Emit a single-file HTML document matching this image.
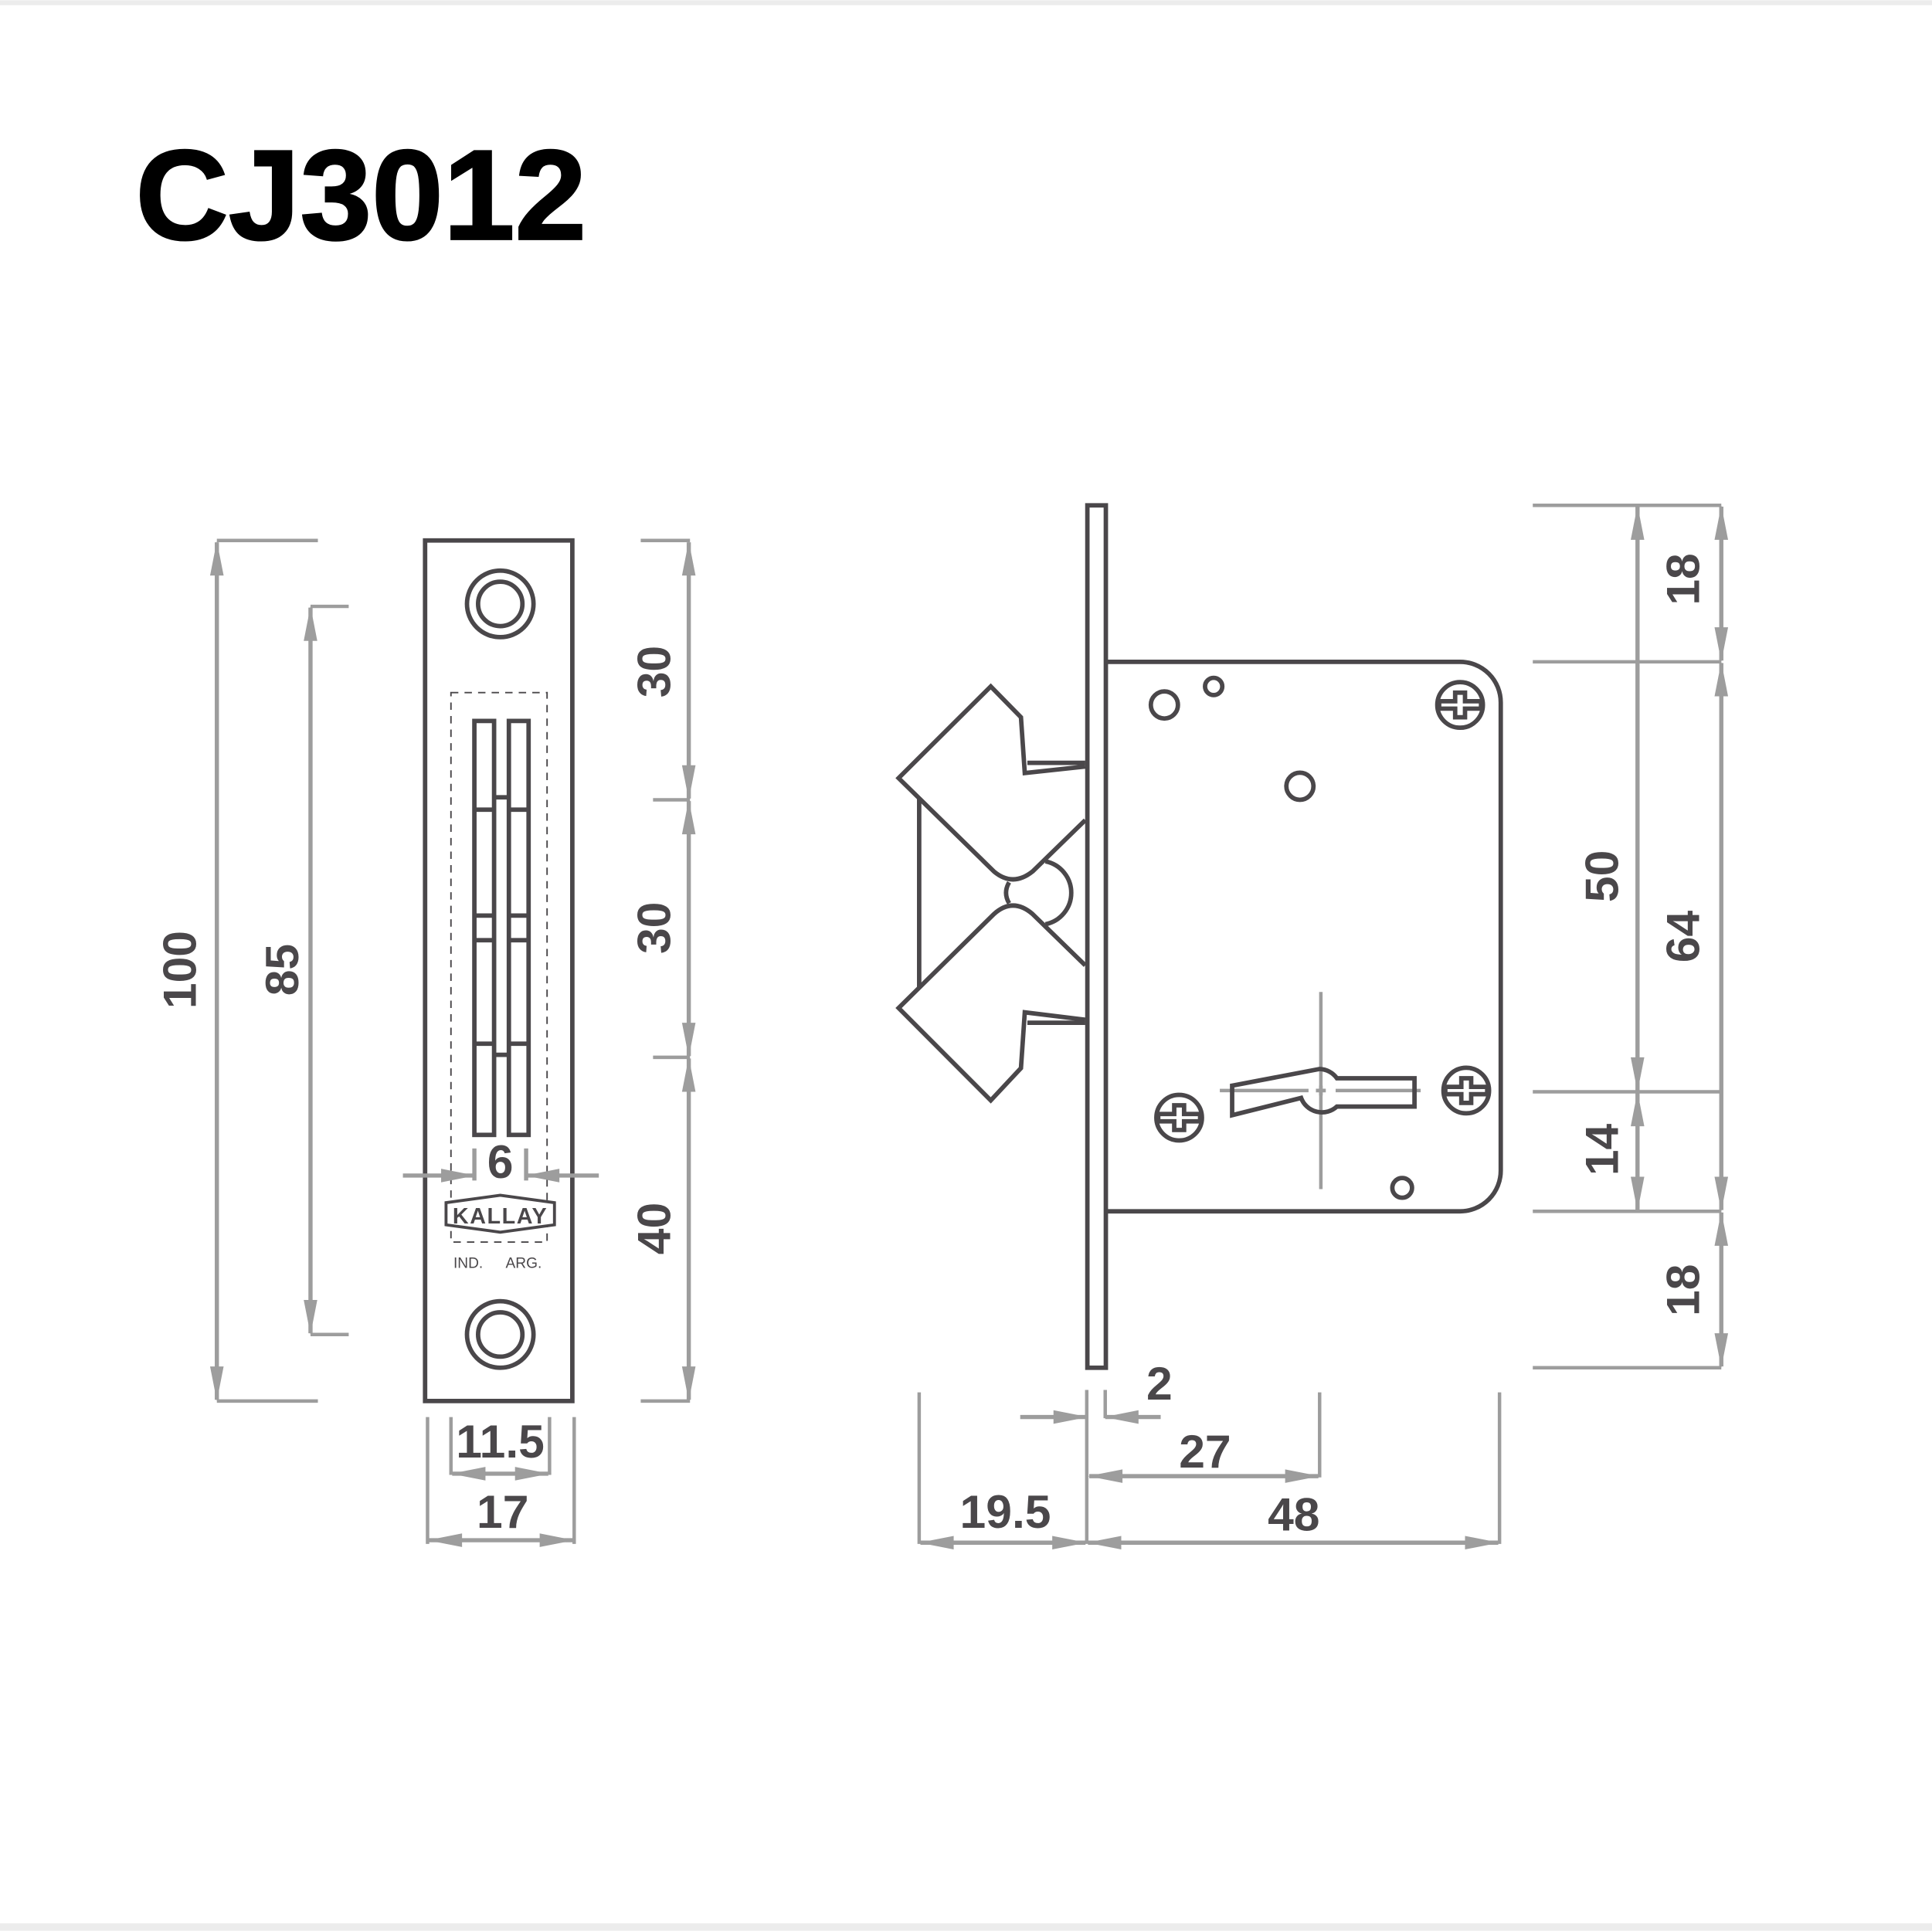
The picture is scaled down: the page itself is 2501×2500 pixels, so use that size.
<!DOCTYPE html>
<html><head><meta charset="utf-8"><style>
html,body{margin:0;padding:0;background:#fff;}
svg{display:block;}
.d{fill:none;stroke:#4a474a;stroke-width:3.6;stroke-linejoin:miter;}
.g{fill:none;stroke:#9d9d9d;stroke-width:3.4;}
.ge{fill:none;stroke:#9d9d9d;stroke-width:2.8;}
.t{font-family:"Liberation Sans",sans-serif;font-weight:bold;font-size:38px;fill:#4a474a;text-anchor:middle;}
</style></head><body>
<svg width="2501" height="2500" viewBox="0 0 1568 1567" xmlns="http://www.w3.org/2000/svg">
<defs>
<marker id="a" markerUnits="userSpaceOnUse" markerWidth="40" markerHeight="14" refX="0" refY="0" viewBox="-30 -7 32 14" orient="auto-start-reverse"><path d="M1,0 L-27,-5.5 L-27,5.5 z" fill="#9d9d9d"/></marker>
<g id="scr"><circle class="d" cx="0" cy="0" r="18.5"/><polygon class="d" points="-4,-10 4,-10 4,-3 17,-3 17,3 4,3 4,10 -4,10 -4,3 -17,3 -17,-3 -4,-3"/></g>
</defs>
<rect x="0" y="0" width="1568" height="4" fill="#ececec"/>
<rect x="0" y="1561" width="1568" height="6" fill="#ececec"/>
<text x="110" y="194" font-family="Liberation Sans,sans-serif" font-weight="bold" font-size="104" fill="#000" stroke="#000" stroke-width="1.5" textLength="366" lengthAdjust="spacingAndGlyphs">CJ3012</text>

<!-- LEFT faceplate -->
<rect class="d" x="345" y="438.5" width="119.5" height="698.5"/>
<circle class="d" cx="406" cy="490" r="27"/><circle class="d" cx="406" cy="490" r="18"/>
<circle class="d" cx="406" cy="1083" r="27"/><circle class="d" cx="406" cy="1083" r="18"/>
<rect x="366" y="562" width="78" height="446" fill="none" stroke="#4a474a" stroke-width="1.2" stroke-dasharray="6,5"/>
<rect class="d" x="385" y="585" width="16" height="336"/>
<rect class="d" x="413" y="585" width="16" height="336"/>
<path class="d" d="M385,657H401M385,743H401M385,763H401M385,847H401M413,657H429M413,743H429M413,763H429M413,847H429M401,647H413M401,856H413"/>
<text class="t" x="406" y="956">6</text>
<path class="g" d="M385,932V958M427,932V958"/>
<line class="g" x1="327" y1="954" x2="385" y2="954" marker-end="url(#a)"/>
<line class="g" x1="486" y1="954" x2="427" y2="954" marker-end="url(#a)"/>
<polygon points="362,976 406,970 450,976 450,994 406,1000 362,994" fill="#fff" stroke="#4a474a" stroke-width="2.4"/>
<text x="406" y="993" font-family="Liberation Sans,sans-serif" font-weight="bold" font-size="18" fill="#4a474a" text-anchor="middle" letter-spacing="1">KALLAY</text>
<text x="380" y="1029" font-family="Liberation Sans,sans-serif" font-size="12" fill="#4a474a" text-anchor="middle">IND.</text>
<text x="425" y="1029" font-family="Liberation Sans,sans-serif" font-size="12" fill="#4a474a" text-anchor="middle">ARG.</text>

<!-- left dims -->
<path class="ge" d="M176,438.5H258M176,1137H258M252,492H283M252,1083H283"/>
<line class="g" x1="176" y1="440" x2="176" y2="1136" marker-start="url(#a)" marker-end="url(#a)"/>
<line class="g" x1="252" y1="493" x2="252" y2="1082" marker-start="url(#a)" marker-end="url(#a)"/>
<text class="t" transform="translate(159,787) rotate(-90)">100</text>
<text class="t" transform="translate(242,787) rotate(-90)">85</text>
<path class="ge" d="M520,438.5H560M530,649H560M530,858H560M520,1137H560"/>
<line class="g" x1="559" y1="440" x2="559" y2="648" marker-start="url(#a)" marker-end="url(#a)"/>
<line class="g" x1="559" y1="650" x2="559" y2="857" marker-start="url(#a)" marker-end="url(#a)"/>
<line class="g" x1="559" y1="859" x2="559" y2="1136" marker-start="url(#a)" marker-end="url(#a)"/>
<text class="t" transform="translate(544,545) rotate(-90)">30</text>
<text class="t" transform="translate(544,753) rotate(-90)">30</text>
<text class="t" transform="translate(544,997) rotate(-90)">40</text>
<path class="ge" d="M347,1150V1253M466,1150V1253M366,1150V1197M446,1150V1197"/>
<line class="g" x1="367" y1="1196" x2="445" y2="1196" marker-start="url(#a)" marker-end="url(#a)"/>
<line class="g" x1="348" y1="1250" x2="465" y2="1250" marker-start="url(#a)" marker-end="url(#a)"/>
<text class="t" x="406" y="1183">11.5</text>
<text class="t" x="408" y="1240">17</text>

<!-- RIGHT lock body -->
<rect class="d" x="882.5" y="410" width="15" height="700"/>
<path class="d" d="M898,537H1185A33,33 0 0 1 1218,570V950A33,33 0 0 1 1185,983H898"/>
<circle class="d" cx="945" cy="572" r="11"/>
<circle class="d" cx="985" cy="557" r="7"/>
<circle class="d" cx="1055" cy="638" r="11"/>
<circle class="d" cx="1138" cy="964" r="8"/>
<use href="#scr" transform="translate(1185,572)"/>
<use href="#scr" transform="translate(957,907)"/>
<use href="#scr" transform="translate(1190,885)"/>
<path class="ge" d="M1072,805V965M990,885H1062M1084,885H1153" stroke-width="3"/>
<path class="d" d="M1000,881L1071,867.5A18,18 0 0 1 1085,875H1148V898H1085A18,18 0 0 1 1056,891L1000,905Z"/>
<path d="M1068,885H1076M1072,881V889" stroke="#9d9d9d" stroke-width="3"/>

<!-- latch bolts -->
<path class="d" d="M880.8,622L831.7,627.3L828.6,582L804.1,557L729.3,631.4L806.7,707.2Q822,720 838,707.2L880.8,665.5"/>
<path class="d" d="M833.8,619H880.8"/>
<path class="d" d="M880.8,783.4L838,741.7Q822,728 806.7,741.7L729.3,818L804.1,893L828.6,866.8L831.7,821.5L880.8,827.5"/>
<path class="d" d="M833.8,830H880.8"/>
<path class="d" d="M746,647.6V801.3"/>
<path class="d" d="M819,716Q814,724.5 819,733"/>
<path class="d" d="M848.5,699A26,26 0 0 1 848.5,750"/>

<!-- right dims -->
<path class="ge" d="M1244,410H1397M1244,537H1397M1244,886H1397M1244,983H1397M1244,1110H1397"/>
<line class="g" x1="1329" y1="411" x2="1329" y2="885" marker-start="url(#a)" marker-end="url(#a)"/>
<line class="g" x1="1329" y1="887" x2="1329" y2="982" marker-start="url(#a)" marker-end="url(#a)"/>
<line class="g" x1="1397" y1="411" x2="1397" y2="536" marker-start="url(#a)" marker-end="url(#a)"/>
<line class="g" x1="1397" y1="538" x2="1397" y2="982" marker-start="url(#a)" marker-end="url(#a)"/>
<line class="g" x1="1397" y1="984" x2="1397" y2="1109" marker-start="url(#a)" marker-end="url(#a)"/>
<text class="t" transform="translate(1379,470) rotate(-90)">18</text>
<text class="t" transform="translate(1313,711) rotate(-90)">50</text>
<text class="t" transform="translate(1379,760) rotate(-90)">64</text>
<text class="t" transform="translate(1313,933) rotate(-90)">14</text>
<text class="t" transform="translate(1379,1047) rotate(-90)">18</text>

<path class="ge" d="M746,1130V1253M882,1128V1253M897,1128V1151M1071,1130V1199M1217,1130V1253"/>
<line class="g" x1="828" y1="1150" x2="882" y2="1150" marker-end="url(#a)"/>
<line class="g" x1="942" y1="1150" x2="897" y2="1150" marker-end="url(#a)"/>
<line class="g" x1="884" y1="1198" x2="1070" y2="1198" marker-start="url(#a)" marker-end="url(#a)"/>
<line class="g" x1="747" y1="1252" x2="881" y2="1252" marker-start="url(#a)" marker-end="url(#a)"/>
<line class="g" x1="883" y1="1252" x2="1216" y2="1252" marker-start="url(#a)" marker-end="url(#a)"/>
<text class="t" x="941" y="1136">2</text>
<text class="t" x="978" y="1191">27</text>
<text class="t" x="816" y="1240">19.5</text>
<text class="t" x="1050" y="1242">48</text>
</svg>
</body></html>
